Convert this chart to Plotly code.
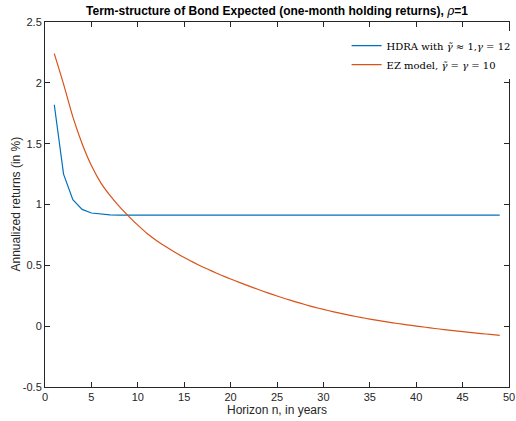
import plotly.graph_objects as go

horizon = list(range(1, 50))

hdra_returns = [1.82, 1.25, 1.04, 0.96, 0.93, 0.92, 0.915, 0.913] + [0.912] * 41

ez_returns = [2.24, 1.99, 1.72, 1.50, 1.32, 1.18, 1.075, 0.985, 0.905, 0.83,
              0.762, 0.705, 0.654, 0.607, 0.564, 0.524, 0.487, 0.452, 0.419, 0.388,
              0.358, 0.329, 0.301, 0.274, 0.248, 0.223, 0.200, 0.178, 0.157, 0.138,
              0.120, 0.103, 0.087, 0.072, 0.058, 0.045, 0.033, 0.022, 0.011, 0.001,
              -0.009, -0.019, -0.028, -0.037, -0.045, -0.053, -0.061, -0.068, -0.076]

x_ticks = [0, 5, 10, 15, 20, 25, 30, 35, 40, 45, 50]
y_ticks = [-0.5, 0, 0.5, 1, 1.5, 2, 2.5]
y_tick_labels = ["-0.5", "0", "0.5", "1", "1.5", "2", "2.5"]

W, H = 516, 421
L, R, T, B = 45, 7, 22, 34

fig = go.Figure()
fig.add_trace(go.Scatter(
    x=horizon, y=hdra_returns, mode="lines",
    line=dict(color="#0072BD", width=1.2),
    name="HDRA with <i>γ̃</i> ≈ 1,<i>γ</i> = 12"))
fig.add_trace(go.Scatter(
    x=horizon, y=ez_returns, mode="lines",
    line=dict(color="#D95319", width=1.2, shape="spline", smoothing=0.6),
    name="EZ model, <i>γ̃</i> = <i>γ</i> = 10"))

axis_common = dict(
    showline=True, linecolor="#262626", linewidth=1, mirror="ticks",
    ticks="inside", ticklen=5, tickcolor="#262626", showgrid=False,
    zeroline=False, automargin=False,
    tickfont=dict(family="Liberation Sans, Arial", size=11, color="#262626"),
)

lab_font = dict(family="Liberation Sans, Arial", size=12, color="#262626")

fig.update_layout(
    width=W, height=H,
    margin=dict(l=L, r=R, t=T, b=B, autoexpand=False),
    paper_bgcolor="white", plot_bgcolor="white",
    title=dict(
        text="<b>Term-structure of Bond Expected (one-month holding returns), </b><i><span style='font-family:DejaVu Serif'>ρ</span></i><b>=1</b>",
        x=(L + W - R) / 2 / W, xanchor="center", y=1 - 11 / H, yanchor="middle",
        font=dict(family="Liberation Sans, Arial", size=12, color="black")),
    xaxis=dict(range=[0, 50], tickvals=x_ticks, **axis_common),
    yaxis=dict(range=[-0.5, 2.5], tickvals=y_ticks, ticktext=y_tick_labels, **axis_common),
    legend=dict(x=0.65, y=0.975, xanchor="left", yanchor="top",
                bgcolor="rgba(255,255,255,1)", borderwidth=0,
                font=dict(family="DejaVu Serif, Liberation Serif", size=10, color="black"),
                tracegroupgap=0),
    showlegend=True,
    annotations=[
        dict(text="Horizon n, in years", xref="paper", yref="paper",
             x=0.5, y=-(410 - (H - B)) / (H - T - B), xanchor="center", yanchor="middle",
             showarrow=False, font=lab_font),
        dict(text="Annualized returns (in %)", xref="paper", yref="paper",
             x=-(L - 15) / (W - L - R), y=0.5, xanchor="center", yanchor="middle",
             textangle=-90, showarrow=False, font=lab_font),
    ],
)

fig.write_html("out.html",
               config={"displayModeBar": False},
               post_script="document.body.style.margin='0';document.body.style.overflow='hidden';")
